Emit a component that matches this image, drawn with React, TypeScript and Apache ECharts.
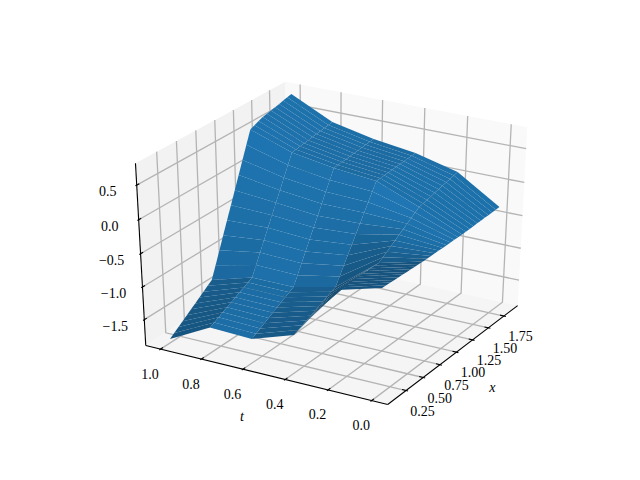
import React, { useEffect, useRef } from "react";
import * as echarts from "echarts";

const tValues = [1.0, 0.8, 0.6, 0.4, 0.2, 0.0];
const xValues = [0.114,0.172,0.230,0.287,0.345,0.403,0.461,0.519,0.576,0.634,0.692,0.750,0.808,0.865,0.923,0.981,1.039,1.097,1.154,1.212,1.270,1.328,1.386,1.443,1.501,1.559,1.617,1.675,1.732,1.790,1.848];
const zAtT10 = [-1.842,-1.793,-1.743,-1.694,-1.644,-1.595,-1.545,-1.496,-1.446,-1.397,-1.347,-1.157,-0.966,-0.776,-0.585,-0.395,-0.205,-0.014,0.176,0.367,0.557,0.585,0.612,0.638,0.652,0.667,0.681,0.696,0.712,0.727,0.743];
const zAtT08 = [-1.511,-1.476,-1.442,-1.407,-1.373,-1.338,-1.303,-1.269,-1.234,-1.200,-1.165,-1.015,-0.864,-0.714,-0.563,-0.413,-0.263,-0.112,0.038,0.189,0.339,0.349,0.360,0.370,0.380,0.391,0.401,0.411,0.421,0.432,0.442];
const zAtT06 = [-1.535,-1.498,-1.461,-1.425,-1.388,-1.351,-1.314,-1.277,-1.241,-1.204,-1.167,-1.027,-0.887,-0.746,-0.606,-0.466,-0.326,-0.186,-0.045,0.095,0.235,0.242,0.250,0.257,0.264,0.272,0.279,0.286,0.293,0.301,0.308];
const zAtT04 = [-1.321,-1.291,-1.261,-1.232,-1.202,-1.172,-1.142,-1.112,-1.083,-1.053,-1.023,-0.904,-0.784,-0.665,-0.546,-0.427,-0.307,-0.188,-0.069,0.051,0.170,0.175,0.180,0.186,0.191,0.196,0.201,0.206,0.212,0.217,0.222];
const zAtT02 = [-0.503,-0.505,-0.506,-0.508,-0.509,-0.511,-0.513,-0.514,-0.516,-0.517,-0.519,-0.476,-0.432,-0.389,-0.345,-0.302,-0.258,-0.215,-0.171,-0.128,-0.084,-0.069,-0.055,-0.040,-0.025,-0.011,0.004,0.019,0.034,0.048,0.063];
const zAtT00 = [-0.329,-0.332,-0.335,-0.337,-0.340,-0.343,-0.346,-0.349,-0.351,-0.354,-0.357,-0.357,-0.357,-0.357,-0.357,-0.358,-0.358,-0.358,-0.358,-0.358,-0.358,-0.356,-0.353,-0.351,-0.348,-0.346,-0.343,-0.341,-0.338,-0.336,-0.333];
const zRows = [zAtT10, zAtT08, zAtT06, zAtT04, zAtT02, zAtT00];

const tTicks = [1.0, 0.8, 0.6, 0.4, 0.2, 0.0];
const tTickLabels = ["1.0", "0.8", "0.6", "0.4", "0.2", "0.0"];
const xTicks = [0.25, 0.5, 0.75, 1.0, 1.25, 1.5, 1.75];
const xTickLabels = ["0.25", "0.50", "0.75", "1.00", "1.25", "1.50", "1.75"];
const zTicks = [0.5, 0.0, -0.5, -1.0, -1.5];
const zTickLabels = ["0.5", "0.0", "\u22120.5", "\u22121.0", "\u22121.5"];

const E = 1 / 48;
const uOf = (t: number) => 1 - (t + 0.05) / 1.1;
const vOf = (x: number) => (x - 0.027) / 1.908;
const wOf = (z: number) => (z + 1.849) / 2.607;

function project(u: number, v: number, w: number): [number, number] {
  const a = u - 0.5, b = v - 0.5, c = w - 0.5;
  const xc = 0.8660254 * a + 0.5 * b;
  const yc = -0.25 * a + 0.4330127 * b + 0.8660254 * c;
  const d = 10 - (0.4330127 * a - 0.75 * b + 0.5 * c);
  return [334.7 + (2681 * xc) / d, 237.4 - (1998 * yc) / d];
}
function depth(u: number, v: number, w: number) {
  return 10 - (0.4330127 * (u - 0.5) - 0.75 * (v - 0.5) + 0.5 * (w - 0.5));
}

type Pt3 = [number, number, number];
type Item =
  | { kind: "poly"; pts: Pt3[]; fill: string }
  | { kind: "line"; pts: Pt3[]; color: string; width: number }
  | { kind: "text"; at: Pt3; dx: number; dy: number; text: string; font: string; align: string };

const panes: Item[] = [
  { kind: "poly", fill: "#f2f2f2", pts: [[-E, -E, -E], [-E, 1 + E, -E], [-E, 1 + E, 1 + E], [-E, -E, 1 + E]] },
  { kind: "poly", fill: "#f9f9f9", pts: [[-E, 1 + E, -E], [1 + E, 1 + E, -E], [1 + E, 1 + E, 1 + E], [-E, 1 + E, 1 + E]] },
  { kind: "poly", fill: "#f5f5f5", pts: [[-E, -E, -E], [1 + E, -E, -E], [1 + E, 1 + E, -E], [-E, 1 + E, -E]] },
];

const GRID = "#b4b4b4";
const GW = 1.3;
const gridLines: Item[] = [
  ...tTicks.map((t): Item => ({ kind: "line", color: GRID, width: GW, pts: [[uOf(t), -E, -E], [uOf(t), 1 + E, -E], [uOf(t), 1 + E, 1 + E]] })),
  ...xTicks.map((x): Item => ({ kind: "line", color: GRID, width: GW, pts: [[1 + E, vOf(x), -E], [-E, vOf(x), -E], [-E, vOf(x), 1 + E]] })),
  ...zTicks.map((z): Item => ({ kind: "line", color: GRID, width: GW, pts: [[-E, -E, wOf(z)], [-E, 1 + E, wOf(z)], [1 + E, 1 + E, wOf(z)]] })),
];

const AX = "#000000";
const AW = 1.1;
const axisLines: Item[] = [
  { kind: "line", color: AX, width: AW, pts: [[-E, -E, -E], [1 + E, -E, -E]] },
  { kind: "line", color: AX, width: AW, pts: [[1 + E, -E, -E], [1 + E, 1 + E, -E]] },
  { kind: "line", color: AX, width: AW, pts: [[-E, -E, -E], [-E, -E, 1 + E]] },
  ...tTicks.map((t): Item => ({ kind: "line", color: AX, width: AW, pts: [[uOf(t), -E - 0.0083, -E], [uOf(t), -E + 0.0167, -E]] })),
  ...xTicks.map((x): Item => ({ kind: "line", color: AX, width: AW, pts: [[1 + E + 0.0083, vOf(x), -E], [1 + E - 0.0167, vOf(x), -E]] })),
  ...zTicks.map((z): Item => ({ kind: "line", color: AX, width: AW, pts: [[-E, -E - 0.0083, wOf(z)], [-E, -E + 0.0167, wOf(z)]] })),
];

const FONT = '14px "Liberation Serif"';
const labels: Item[] = [
  ...tTicks.map((t, i): Item => ({ kind: "text", at: [uOf(t), -E, -E], dx: -10.5, dy: 25, text: tTickLabels[i], font: FONT, align: "center" })),
  ...xTicks.map((x, i): Item => ({ kind: "text", at: [1 + E, vOf(x), -E], dx: 16.5, dy: 20.5, text: xTickLabels[i], font: FONT, align: "center" })),
  ...zTicks.map((z, i): Item => ({ kind: "text", at: [-E, -E, wOf(z)], dx: -29, dy: 6.5, text: zTickLabels[i], font: FONT, align: "center" })),
  { kind: "text", at: [uOf(0.5), -E, -E], dx: -22, dy: 42, text: "t", font: 'italic 14px "Liberation Serif"', align: "center" },
  { kind: "text", at: [1 + E, vOf(1.0), -E], dx: 36, dy: 35, text: "x", font: 'italic 14px "Liberation Serif"', align: "center" },
];

function surfaceCells(): Item[] {
  const cells: { it: Item; key: number }[] = [];
  const L = [-0.6667, -0.6667, 0.3333];
  for (let i = 0; i + 1 < tValues.length; i++) {
    for (let j = 0; j + 1 < xValues.length; j++) {
      const corners: [number, number, number][] = [
        [tValues[i], xValues[j], zRows[i][j]],
        [tValues[i + 1], xValues[j], zRows[i + 1][j]],
        [tValues[i + 1], xValues[j + 1], zRows[i + 1][j + 1]],
        [tValues[i], xValues[j + 1], zRows[i][j + 1]],
      ];
      const d1 = [corners[2][1] - corners[0][1], corners[2][0] - corners[0][0], corners[2][2] - corners[0][2]];
      const d2 = [corners[3][1] - corners[1][1], corners[3][0] - corners[1][0], corners[3][2] - corners[1][2]];
      let n = [d1[1] * d2[2] - d1[2] * d2[1], d1[2] * d2[0] - d1[0] * d2[2], d1[0] * d2[1] - d1[1] * d2[0]];
      if (n[2] < 0) n = n.map((q) => -q);
      const len = Math.hypot(n[0], n[1], n[2]) || 1;
      const shade = (n[0] * L[0] + n[1] * L[1] + n[2] * L[2]) / len;
      const k = 0.5 + ((shade + 1) / 2) * 0.5;
      const fill = `rgb(${Math.round(31 * k)},${Math.round(119 * k)},${Math.round(180 * k)})`;
      const pts = corners.map((q): Pt3 => [uOf(q[0]), vOf(q[1]), wOf(q[2])]);
      const key = pts.reduce((s, p) => s + depth(p[0], p[1], p[2]), 0) / 4;
      cells.push({ it: { kind: "poly", pts, fill }, key });
    }
  }
  cells.sort((p, q) => q.key - p.key);
  return cells.map((c) => c.it);
}

function layer(items: Item[], z: number) {
  return {
    type: "custom",
    coordinateSystem: "cartesian2d",
    silent: true,
    clip: false,
    z,
    data: items.map((_, i) => [i]),
    renderItem: (_p: any, api: any) => {
      const it = items[api.value(0)];
      const screen = (p: Pt3) => {
        const [px, py] = project(p[0], p[1], p[2]);
        return api.coord([px, py]);
      };
      if (it.kind === "poly") {
        return { type: "polygon", shape: { points: it.pts.map(screen) }, style: { fill: it.fill, stroke: "none", lineWidth: 0 } };
      }
      if (it.kind === "line") {
        return { type: "polyline", shape: { points: it.pts.map(screen) }, style: { fill: "none", stroke: it.color, lineWidth: it.width } };
      }
      const c = screen(it.at);
      return {
        type: "text",
        style: { text: it.text, x: c[0] + it.dx, y: c[1] + it.dy, font: it.font, fill: "#000", align: it.align, verticalAlign: "middle" },
      };
    },
  };
}

export default function App() {
  const ref = useRef<HTMLDivElement>(null);
  useEffect(() => {
    const chart = echarts.init(ref.current!, undefined, { renderer: "svg" });
    chart.setOption({
      animation: false,
      backgroundColor: "#ffffff",
      grid: { left: 0, right: 0, top: 0, bottom: 0 },
      xAxis: { type: "value", min: 0, max: 640, show: false },
      yAxis: { type: "value", min: 0, max: 480, inverse: true, show: false },
      series: [layer(panes, 1), layer(gridLines, 2), layer(axisLines, 3), layer(surfaceCells(), 4), layer(labels, 5)],
    });
    return () => chart.dispose();
  }, []);
  return <div ref={ref} style={{ position: "fixed", left: 0, top: 0, width: 640, height: 480 }} />;
}
